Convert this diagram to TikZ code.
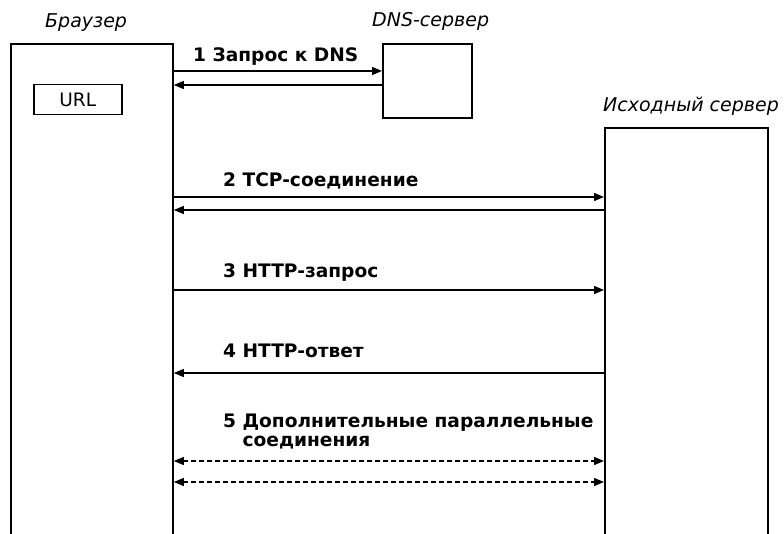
\documentclass[tikz,border=0pt]{standalone}
\usepackage{fontspec}
\setmainfont{DejaVu Sans}
\usetikzlibrary{positioning, arrows.meta}
\tikzset{
  hostbox/.style={
    rectangle, draw=black, line width=1.8pt,
    anchor=north west, inner sep=0pt
  },
  hostname/.style={
    font=\itshape\fontsize{19}{22}\selectfont,
    anchor=base west, inner sep=0pt
  },
  msglabel/.style={
    font=\bfseries\fontsize{18.6}{18.5}\selectfont,
    anchor=base west, inner sep=0pt, align=left
  },
  msgarrow/.style={
    -{Triangle[length=10pt,width=8pt]}, draw=black, line width=1.3pt
  },
  msgarrow-dashed/.style={
    {Triangle[length=10pt,width=8pt]}-{Triangle[length=10pt,width=8pt]},
    draw=black, line width=1.3pt, dash pattern=on 5pt off 3pt
  }
}

\begin{document}
\begin{tikzpicture}[x=1pt, y=-1pt]
  \path[use as bounding box, clip] (0,0) rectangle (784,534);

  % hosts
  \node[hostbox, minimum width=162pt, minimum height=540pt] (browser) at (10,43) {};
  \node[hostbox, minimum width=89pt, minimum height=74pt]   (dns)     at (382,43) {};
  \node[hostbox, minimum width=163pt, minimum height=440pt] (origin)  at (604,127) {};
  \node[hostbox, line width=1.5pt, minimum width=88pt, minimum height=30pt,
        font=\fontsize{18.5}{20}\selectfont] (url) at (33,84) {URL};

  \node[hostname] (browsername) at (45,28)  {Браузер};
  \node[hostname] (dnsname)     at (372,27) {DNS-сервер};
  \node[hostname] (originname)  at (603,112) {Исходный сервер};

  % messages
  \node[msglabel] (l1) at (193,62)  {1 Запрос к DNS};
  \node[msglabel] (l2) at (223,187) {2 TCP-соединение};
  \node[msglabel] (l3) at (223,278) {3 HTTP-запрос};
  \node[msglabel] (l4) at (223,358) {4 HTTP-ответ};
  \node[msglabel] (l5) at (223,446) {5 Дополнительные параллельные\\\hphantom{5}\ соединения};

  \draw[msgarrow] (browser.east |- 0,71)  -- (dns.west |- 0,71);
  \draw[msgarrow] (dns.west |- 0,85)      -- (browser.east |- 0,85);
  \draw[msgarrow] (browser.east |- 0,197) -- (origin.west |- 0,197);
  \draw[msgarrow] (origin.west |- 0,210)  -- (browser.east |- 0,210);
  \draw[msgarrow] (browser.east |- 0,290) -- (origin.west |- 0,290);
  \draw[msgarrow] (origin.west |- 0,373)  -- (browser.east |- 0,373);
  \draw[msgarrow-dashed] (browser.east |- 0,461) -- (origin.west |- 0,461);
  \draw[msgarrow-dashed] (browser.east |- 0,482) -- (origin.west |- 0,482);
\end{tikzpicture}
\end{document}
